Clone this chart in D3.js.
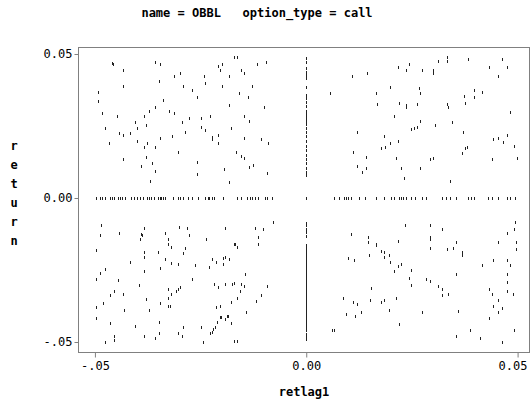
<!DOCTYPE html>
<html>
<head>
<meta charset="utf-8">
<script src="https://cdn.jsdelivr.net/npm/d3@7"></script>
<style>
  body { margin: 0; background: #fff; }
  text { font-family: "DejaVu Sans Mono", monospace; fill: #000; }
</style>
</head>
<body>
<svg id="chart" width="532" height="408"></svg>
<script>
// values, in thousandths (retlag1, return)
const upperLeft = [
  [-46.0,47.0],[-45.7,46.5],[-43.4,44.4],[-43.4,38.9],[-49.2,36.7],[-49.2,33.7],[-48.3,29.4],
  [-47.6,24.2],[-46.6,19.0],[-44.8,28.5],[-44.3,22.5],[-43.4,21.9],[-43.4,13.4],[-41.6,22.5],
  [-40.5,26.5],[-40.0,24.2],[-40.0,19.9],[-39.1,11.2],[-38.5,28.5],[-38.5,17.6],[-37.9,25.3],
  [-37.7,19.0],[-37.9,14.1],[-37.1,30.3],[-37.0,6.0],[-36.6,12.0],[-35.7,47.3],[-34.6,46.5],
  [-35.7,31.5],[-35.7,17.6],[-35.7,9.5],[-34.8,40.5],[-34.6,20.7],[-33.9,34.0],[-32.5,30.3],
  [-31.4,29.4],[-31.8,21.5],[-31.4,42.4],[-29.8,43.5],[-30.3,15.9],[-29.5,26.3],[-28.8,22.8],
  [-29.1,38.9],[-27.7,27.7],[-27.1,37.5],[-25.9,34.9],[-25.9,12.4],[-25.9,8.2],[-25.0,27.7],
  [-25.0,24.5],[-23.9,23.6],[-24.1,42.4],[-23.9,40.0],[-22.7,28.5],[-22.2,21.3],[-22.2,20.6],
  [-20.9,45.8],[-20.5,44.4],[-19.9,46.5],[-20.9,21.9],[-20.9,19.0],[-19.9,38.9],[-19.5,10.0],
  [-18.2,42.4],[-18.2,32.3],[-18.2,5.7],[-17.7,24.2],[-17.2,48.8],[-16.4,48.8],[-16.7,15.9],
  [-15.8,36.3],[-15.4,44.4],[-14.7,43.5],[-15.4,14.7],[-14.7,13.9],[-14.7,28.5],[-13.6,26.7],
  [-14.7,20.7],[-13.7,34.9],[-13.6,10.9],[-12.6,11.6],[-12.9,38.9],[-11.7,46.5],[-10.7,20.4],
  [-10.1,31.5],[-9.6,47.3],[-9.4,8.6],[-9.0,19.0]
];
const upperRight = [
  [5.6,36.3],[10.8,42.4],[14.3,43.3],[16.6,36.3],[16.8,32.5],[19.7,38.4],[20.7,28.5],[21.6,45.4],
  [22.0,32.9],[23.7,44.4],[23.7,32.2],[23.7,31.5],[24.3,46.5],[26.1,32.5],[26.6,38.1],[26.9,36.3],
  [27.3,44.4],[26.9,26.9],[26.1,24.5],[25.4,24.2],[24.8,23.8],[30.0,44.4],[30.0,43.3],[30.5,25.5],
  [31.2,47.6],[33.2,48.8],[33.2,47.6],[33.3,32.5],[33.6,31.5],[34.4,26.4],[37.3,35.4],[37.5,32.9],
  [38.2,48.3],[39.8,37.5],[39.8,34.9],[41.5,36.7],[43.3,45.4],[45.4,42.4],[46.2,48.3],[47.4,45.4],
  [48.1,29.9],[12.0,22.9],[18.4,21.5],[19.7,19.0],[21.6,19.9],[17.8,17.4],[18.6,17.6],[11.1,16.0],
  [14.1,14.1],[12.0,11.2],[13.1,9.0],[14.1,10.4],[21.2,13.9],[22.5,10.4],[23.2,6.9],[26.9,10.4],
  [29.3,13.4],[30.0,13.9],[33.9,6.0],[37.0,22.9],[37.5,17.2],[38.1,17.6],[36.9,15.5],[44.2,20.4],
  [45.4,20.7],[46.6,19.4],[47.4,22.0],[49.2,18.1],[44.0,13.4],[49.8,13.9]
];
const lowerLeft = [
  [-48.5,-9.4],[-48.9,-12.8],[-49.8,-18.1],[-49.8,-28.1],[-48.7,-25.9],[-47.6,-24.7],[-48.2,-36.4],
  [-49.8,-37.9],[-49.8,-41.8],[-46.4,-43.5],[-47.6,-50.1],[-45.5,-47.8],[-45.5,-49.3],[-46.4,-33.7],
  [-45.5,-32.3],[-44.6,-28.5],[-44.3,-12.0],[-43.4,-33.2],[-43.1,-38.9],[-41.7,-22.1],[-40.5,-44.4],
  [-39.6,-30.2],[-39.4,-14.2],[-39.1,-12.6],[-38.9,-12.8],[-38.5,-10.3],[-38.5,-18.6],[-38.5,-20.4],
  [-38.5,-25.4],[-38.5,-47.8],[-38.0,-34.9],[-37.1,-38.9],[-35.7,-48.7],[-35.1,-18.6],[-34.9,-47.0],
  [-34.8,-43.2],[-34.6,-24.2],[-34.6,-36.4],[-33.4,-12.0],[-33.5,-21.3],[-32.8,-14.3],[-32.8,-16.1],
  [-31.9,-16.9],[-32.8,-31.5],[-32.8,-34.8],[-32.8,-37.5],[-32.3,-37.5],[-31.9,-22.5],[-31.9,-33.2],
  [-30.7,-32.3],[-30.3,-31.5],[-29.9,-30.8],[-30.3,-22.9],[-30.0,-10.0],[-29.2,-19.2],[-28.8,-17.5],
  [-29.5,-47.9],[-30.3,-47.0],[-29.1,-44.8],[-28.2,-10.3],[-27.7,-12.8],[-27.1,-28.1],[-26.4,-23.4],
  [-25.0,-44.8],[-24.5,-50.1],[-23.6,-14.3],[-23.0,-24.1],[-22.3,-21.3],[-21.4,-22.1],[-21.3,-37.9],
  [-21.9,-29.8],[-20.9,-30.8],[-20.5,-37.5],[-20.1,-41.2],[-19.8,-20.9],[-19.7,-22.9],[-19.3,-20.4],
  [-19.3,-10.3],[-19.3,-29.8],[-19.3,-41.9],[-18.8,-41.0],[-18.2,-21.3],[-17.9,-43.5],[-17.8,-36.2],
  [-17.5,-29.8],[-17.1,-29.4],[-17.2,-16.0],[-16.8,-16.0],[-16.3,-16.9],[-17.1,-49.7],[-16.3,-49.7],
  [-16.4,-34.8],[-15.4,-29.8],[-15.6,-32.3],[-14.5,-26.3],[-14.7,-30.7],[-14.2,-39.7],[-12.2,-10.3],
  [-11.8,-35.8],[-11.5,-13.4],[-11.5,-16.0],[-10.2,-10.9],[-10.7,-33.7],[-9.2,-30.7],[-7.8,-8.2],
  [-22.3,-46.4],[-22.7,-46.8],[-22.0,-45.6],[-21.6,-44.7],[-21.1,-43.2],[-20.3,-41.2],[-18.5,-41.0]
];
const lowerRight = [
  [23.4,-9.4],[29.3,-9.4],[32.1,-10.9],[49.5,-8.2],[10.6,-12.5],[14.5,-13.4],[14.5,-15.2],[14.7,-15.4],
  [16.5,-16.0],[16.4,-16.3],[21.6,-14.8],[29.3,-13.4],[29.3,-14.3],[35.5,-15.2],[45.3,-15.2],[47.4,-12.0],
  [49.2,-10.9],[49.7,-15.2],[49.7,-17.8],[29.3,-17.3],[33.2,-17.8],[34.8,-17.3],[36.9,-18.6],[36.9,-19.9],
  [17.7,-18.3],[18.4,-18.6],[18.4,-20.4],[19.5,-19.9],[14.8,-19.9],[9.9,-20.8],[11.3,-21.6],[19.7,-22.1],
  [22.4,-22.8],[21.6,-23.7],[20.7,-25.4],[24.8,-25.0],[41.5,-23.3],[44.1,-21.6],[47.4,-21.6],[48.1,-23.3],
  [35.5,-26.4],[47.4,-26.4],[24.3,-27.7],[28.4,-28.0],[29.3,-28.9],[24.8,-30.3],[47.4,-29.3],[15.4,-31.1],
  [31.2,-30.7],[32.1,-31.5],[32.1,-33.7],[33.6,-33.2],[43.3,-31.5],[44.0,-33.2],[47.4,-32.3],[49.0,-33.2],
  [8.8,-34.8],[11.1,-36.2],[12.0,-36.7],[15.0,-35.3],[17.8,-36.2],[18.4,-35.3],[21.2,-34.8],[45.3,-35.3],
  [9.5,-40.2],[11.5,-41.0],[12.9,-39.7],[19.5,-38.8],[27.3,-39.7],[35.9,-39.2],[44.1,-37.5],[46.2,-38.3],
  [45.3,-39.7],[43.3,-41.8],[22.0,-43.6],[6.1,-45.7],[6.5,-45.7],[38.7,-45.7],[49.1,-45.7],[35.5,-47.8],
  [41.0,-48.6],[46.2,-50.0]
];
// points with return = 0 (retlag1 values)
const zeroReturnX = [
  -49.8,-48.9,-48.4,-47.6,-46.4,-46.0,-45.4,-44.6,-44.0,-43.5,-42.9,-41.5,-40.7,-40.0,-39.4,-38.7,
  -37.7,-37.2,-36.7,-36.1,-35.1,-34.7,-34.4,-34.0,-33.4,-31.5,-30.4,-29.9,-29.2,-28.0,-27.1,-25.7,
  -23.9,-23.3,-22.9,-22.3,-21.9,-19.8,-16.4,-15.4,-14.0,-13.4,-12.9,-12.2,-11.4,-9.8,-9.2,-8.1,
  0,6.5,7.7,8.9,9.4,9.9,10.6,12.5,14.0,16.4,18.4,20.1,20.8,22.0,22.5,23.0,23.7,24.9,25.7,27.3,28.4,
  32.1,33.1,34.1,35.4,38.2,38.9,39.8,43.1,44.0,45.3,47.4,48.3,49.5
];
// points with retlag1 = 0 (return values)
const zeroLagY = [
  48.6,47.1,45.2,43.9,43.2,42.5,41.8,38.4,35.9,34.6,33.3,32.1,30.1,29.4,28.6,27.9,27.2,26.5,
  25.7,24.3,22.8,21.4,19.9,18.1,16.8,15.1,13.6,12.1,10.4,8.9,8.1,
  -8.6,-9.3,-10.6,-11.9,-13.2,-16.4,-17.1,-17.9,-18.6,-19.5,-20.0,-20.9,-21.6,-22.3,-23.1,-23.7,-24.5,
  -25.2,-25.8,-26.7,-27.3,-28.0,-28.9,-29.5,-30.1,-31.0,-31.7,-32.2,-33.1,-33.8,-34.6,-35.2,-36.0,-36.7,
  -37.3,-38.2,-38.9,-39.6,-40.5,-41.2,-41.8,-42.7,-43.3,-44.1,-44.9,-46.0,-47.3,-48.1,-49.0
];
const xTicks = [-0.05, 0, 0.05];
const yTicks = [-0.05, 0, 0.05];
const tickLabels = { "-0.05": "-.05", "0": "0.00", "0.05": "0.05" };

const unit = 1000;
const points = []
  .concat(upperLeft, upperRight, lowerLeft, lowerRight)
  .map(d => ({ x: d[0] / unit, y: d[1] / unit }))
  .concat(zeroReturnX.map(v => ({ x: v / unit, y: 0 })))
  .concat(zeroLagY.map(v => ({ x: 0, y: v / unit })));

const svg = d3.select("#chart");
const frame = { left: 78, right: 529, top: 47, bottom: 352 };

const x = d3.scaleLinear().domain([-0.054, 0.0527]).range([frame.left, frame.right]);
const y = d3.scaleLinear().domain([-0.05347, 0.05243]).range([frame.bottom, frame.top]);

// title
svg.append("text")
  .attr("x", 257).attr("y", 17)
  .attr("text-anchor", "middle")
  .style("font-size", "12px").style("font-weight", "bold")
  .attr("xml:space", "preserve")
  .text("name = OBBL   option_type = call");

// frame
svg.append("rect")
  .attr("x", frame.left + 0.5).attr("y", frame.top + 0.5)
  .attr("width", frame.right - frame.left).attr("height", frame.bottom - frame.top)
  .attr("fill", "none").attr("stroke", "#808080").attr("stroke-width", 1);

const fmt = v => tickLabels[String(+v.toFixed(2))];

const xAxis = svg.append("g")
  .attr("transform", `translate(0,${frame.bottom + 0.5})`)
  .call(d3.axisBottom(x).tickValues(xTicks).tickSize(5).tickPadding(4).tickFormat(fmt));
const yAxis = svg.append("g")
  .attr("transform", `translate(${frame.left + 0.5},0)`)
  .call(d3.axisLeft(y).tickValues(yTicks).tickSize(4).tickPadding(2).tickFormat(fmt));

[xAxis, yAxis].forEach(a => {
  a.select(".domain").remove();
  a.selectAll(".tick line").attr("stroke", "#808080");
  a.selectAll(".tick text")
    .style("font-family", "'DejaVu Sans Mono', monospace")
    .style("font-size", "12px").attr("fill", "#000");
});
// the last label is kept inside the frame, as in the original
xAxis.selectAll(".tick text")
  .filter(d => d === 0.05)
  .attr("text-anchor", "end")
  .attr("dx", frame.right - 2 - x(0.05));

// axis labels
svg.append("text")
  .attr("x", 304).attr("y", 396)
  .attr("text-anchor", "middle")
  .style("font-size", "12px").style("font-weight", "bold")
  .text("retlag1");

svg.append("g").selectAll("text")
  .data("return".split(""))
  .enter().append("text")
  .attr("x", 14)
  .attr("y", (d, i) => 150 + i * 19)
  .attr("text-anchor", "middle")
  .style("font-size", "12px").style("font-weight", "bold")
  .text(d => d);

// points: short vertical dashes
svg.append("g").selectAll("rect")
  .data(points)
  .enter().append("rect")
  .attr("x", d => Math.round(x(d.x)))
  .attr("y", d => Math.round(y(d.y)) - 1)
  .attr("width", 1)
  .attr("height", 3)
  .attr("fill", "#222");
</script>
</body>
</html>
